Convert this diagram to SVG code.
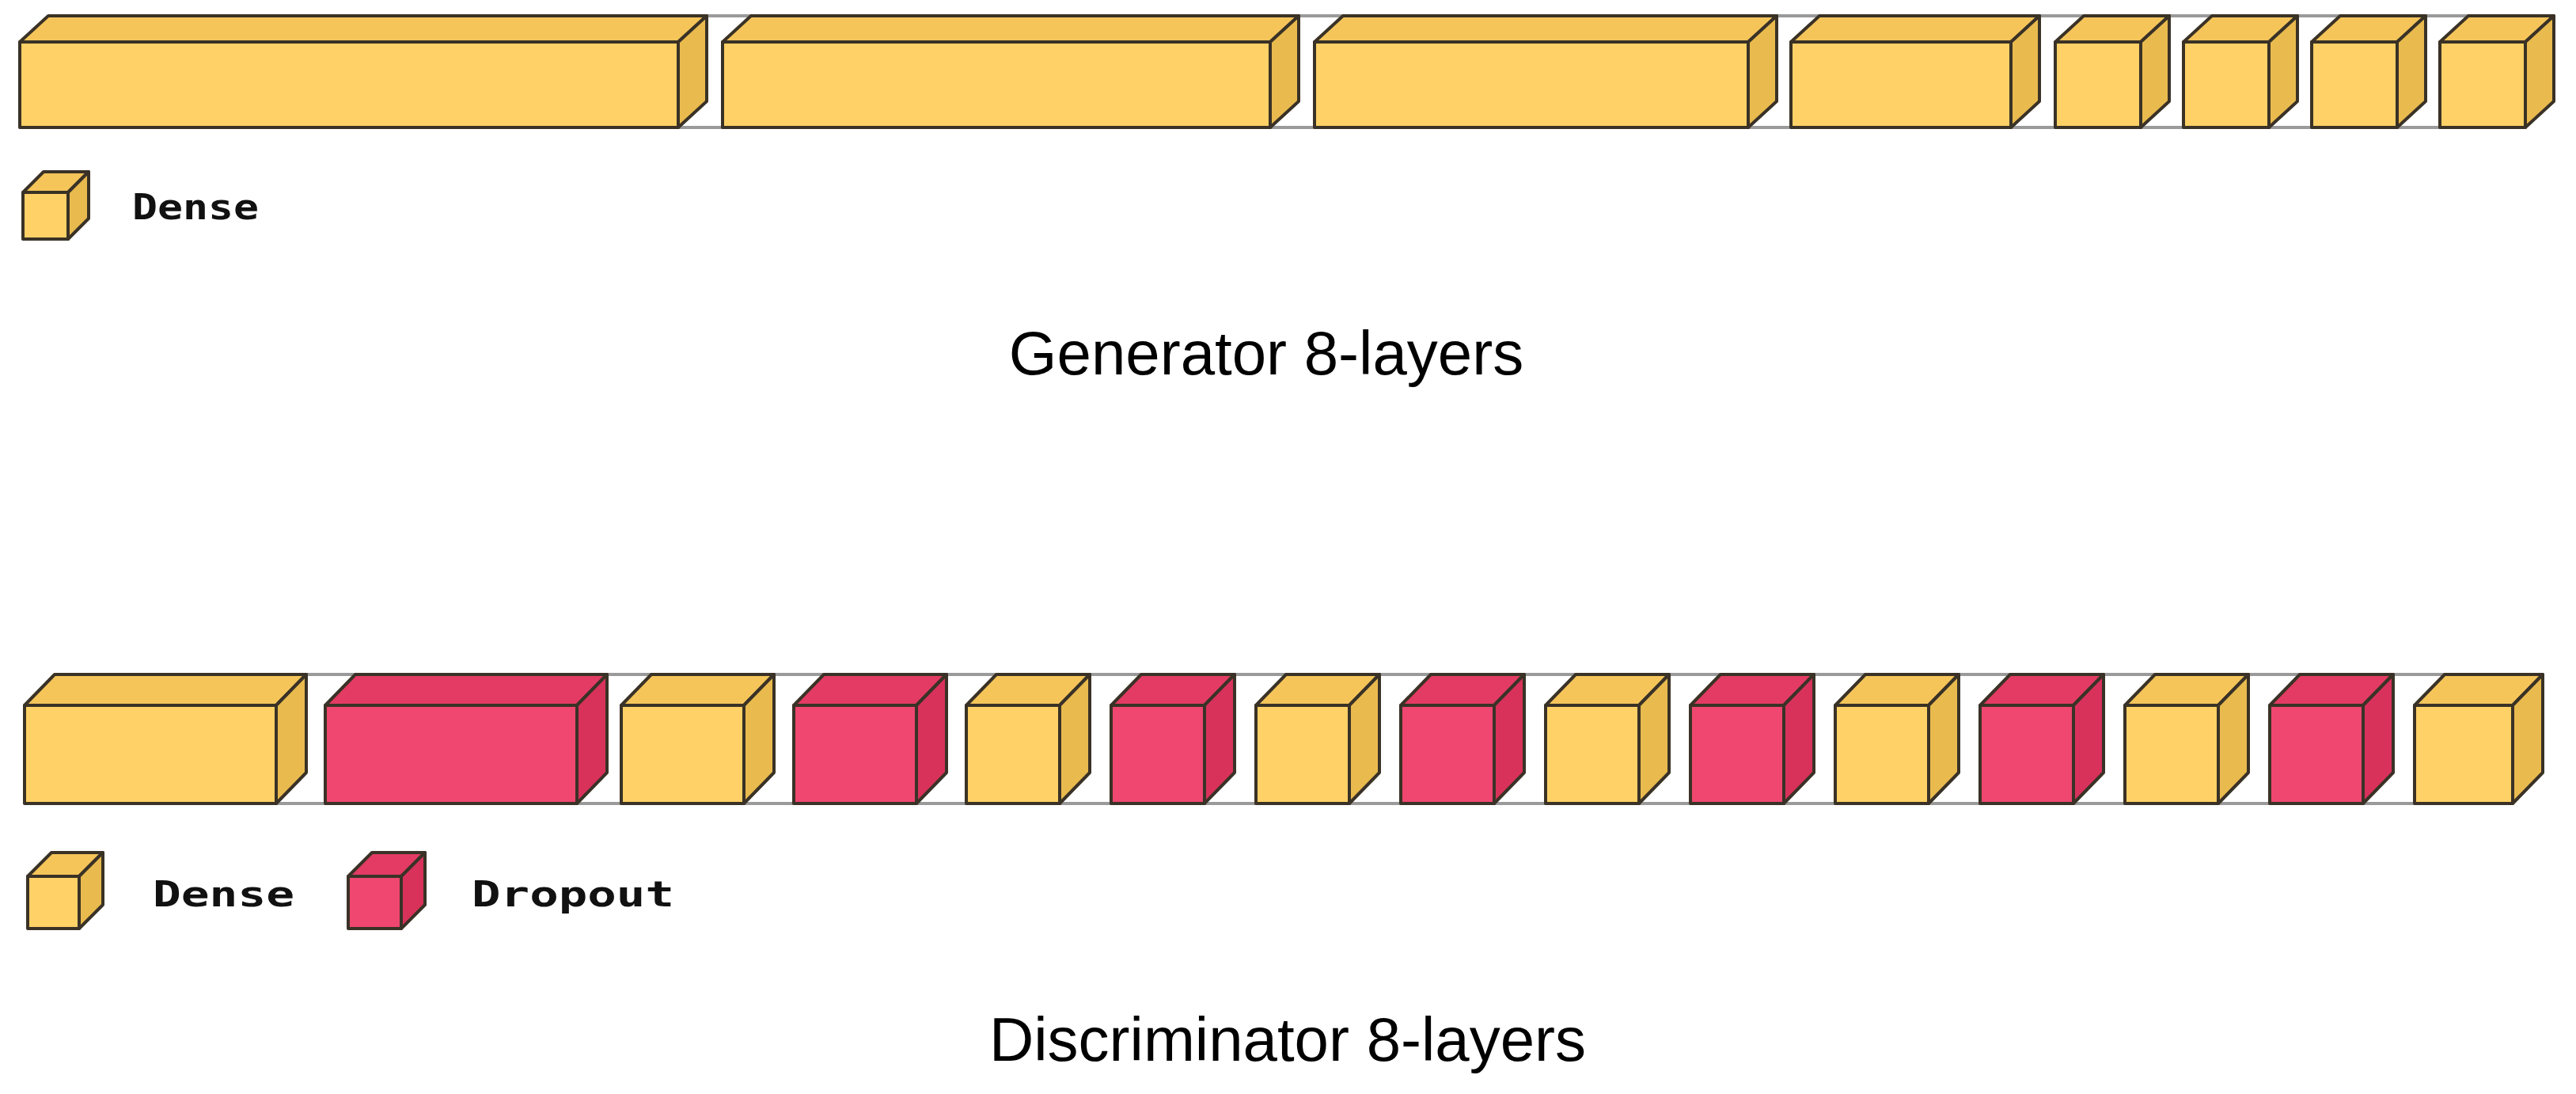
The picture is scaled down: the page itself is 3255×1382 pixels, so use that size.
<svg xmlns="http://www.w3.org/2000/svg" width="3255" height="1382" viewBox="0 0 3255 1382">
<style>
.f{stroke:#3a3226;stroke-width:4;stroke-linejoin:round}
.yf{fill:#FFD166}.yt{fill:#F5C55A}.ys{fill:#E9BA4E}
.rf{fill:#EF476F}.rt{fill:#E33B63}.rs{fill:#D8325B}
.gap{fill:#fff;stroke:#9a9a9a;stroke-width:4}
.lg{font-family:"DejaVu Sans Mono",monospace;font-weight:bold;font-size:44px;fill:#111}
.tt{font-family:"Liberation Sans",Arial,sans-serif;font-size:78px;fill:#000}
</style>
<rect width="3255" height="1382" fill="#fff"/>
<g id="connectors">
<rect class="gap" x="857" y="20" width="92" height="141"/>
<rect class="gap" x="1605" y="20" width="92" height="141"/>
<rect class="gap" x="2209" y="20" width="90" height="141"/>
<rect class="gap" x="2541" y="20" width="92" height="141"/>
<rect class="gap" x="2705" y="20" width="90" height="141"/>
<rect class="gap" x="2867" y="20" width="90" height="141"/>
<rect class="gap" x="3029" y="20" width="90" height="141"/>
<rect class="gap" x="349" y="852" width="100" height="163"/>
<rect class="gap" x="729" y="852" width="94" height="163"/>
<rect class="gap" x="940" y="852" width="101" height="163"/>
<rect class="gap" x="1158" y="852" width="101" height="163"/>
<rect class="gap" x="1339" y="852" width="100" height="163"/>
<rect class="gap" x="1522" y="852" width="103" height="163"/>
<rect class="gap" x="1705" y="852" width="103" height="163"/>
<rect class="gap" x="1888" y="852" width="103" height="163"/>
<rect class="gap" x="2071" y="852" width="103" height="163"/>
<rect class="gap" x="2254" y="852" width="103" height="163"/>
<rect class="gap" x="2437" y="852" width="103" height="163"/>
<rect class="gap" x="2620" y="852" width="103" height="163"/>
<rect class="gap" x="2803" y="852" width="103" height="163"/>
<rect class="gap" x="2986" y="852" width="103" height="163"/>
</g>
<g id="generator">
<g id="g1" class="f"><rect class="yf" x="25" y="53" width="832" height="108"/><polygon class="yt" points="25,53 61,20 893,20 857,53"/><polygon class="ys" points="857,53 893,20 893,128 857,161"/></g>
<g id="g2" class="f"><rect class="yf" x="913" y="53" width="692" height="108"/><polygon class="yt" points="913,53 949,20 1641,20 1605,53"/><polygon class="ys" points="1605,53 1641,20 1641,128 1605,161"/></g>
<g id="g3" class="f"><rect class="yf" x="1661" y="53" width="548" height="108"/><polygon class="yt" points="1661,53 1697,20 2245,20 2209,53"/><polygon class="ys" points="2209,53 2245,20 2245,128 2209,161"/></g>
<g id="g4" class="f"><rect class="yf" x="2263" y="53" width="278" height="108"/><polygon class="yt" points="2263,53 2299,20 2577,20 2541,53"/><polygon class="ys" points="2541,53 2577,20 2577,128 2541,161"/></g>
<g id="g5" class="f"><rect class="yf" x="2597" y="53" width="108" height="108"/><polygon class="yt" points="2597,53 2633,20 2741,20 2705,53"/><polygon class="ys" points="2705,53 2741,20 2741,128 2705,161"/></g>
<g id="g6" class="f"><rect class="yf" x="2759" y="53" width="108" height="108"/><polygon class="yt" points="2759,53 2795,20 2903,20 2867,53"/><polygon class="ys" points="2867,53 2903,20 2903,128 2867,161"/></g>
<g id="g7" class="f"><rect class="yf" x="2921" y="53" width="108" height="108"/><polygon class="yt" points="2921,53 2957,20 3065,20 3029,53"/><polygon class="ys" points="3029,53 3065,20 3065,128 3029,161"/></g>
<g id="g8" class="f"><rect class="yf" x="3083" y="53" width="108" height="108"/><polygon class="yt" points="3083,53 3119,20 3227,20 3191,53"/><polygon class="ys" points="3191,53 3227,20 3227,128 3191,161"/></g>
</g>
<g id="gen-legend">
<g class="f"><rect class="yf" x="29" y="243" width="57" height="59"/><polygon class="yt" points="29,243 55,217 112,217 86,243"/><polygon class="ys" points="86,243 112,217 112,276 86,302"/></g>
<text class="lg" x="167" y="277" textLength="160" lengthAdjust="spacingAndGlyphs">Dense</text>
</g>
<text id="gen-title" class="tt" x="1600" y="473" text-anchor="middle">Generator 8-layers</text>
<g id="discriminator">
<g id="d1" class="f"><rect class="yf" x="31" y="891" width="318" height="124"/><polygon class="yt" points="31,891 69,852 387,852 349,891"/><polygon class="ys" points="349,891 387,852 387,976 349,1015"/></g>
<g id="d2" class="f"><rect class="rf" x="411" y="891" width="318" height="124"/><polygon class="rt" points="411,891 449,852 767,852 729,891"/><polygon class="rs" points="729,891 767,852 767,976 729,1015"/></g>
<g id="d3" class="f"><rect class="yf" x="785" y="891" width="155" height="124"/><polygon class="yt" points="785,891 823,852 978,852 940,891"/><polygon class="ys" points="940,891 978,852 978,976 940,1015"/></g>
<g id="d4" class="f"><rect class="rf" x="1003" y="891" width="155" height="124"/><polygon class="rt" points="1003,891 1041,852 1196,852 1158,891"/><polygon class="rs" points="1158,891 1196,852 1196,976 1158,1015"/></g>
<g id="d5" class="f"><rect class="yf" x="1221" y="891" width="118" height="124"/><polygon class="yt" points="1221,891 1259,852 1377,852 1339,891"/><polygon class="ys" points="1339,891 1377,852 1377,976 1339,1015"/></g>
<g id="d6" class="f"><rect class="rf" x="1404" y="891" width="118" height="124"/><polygon class="rt" points="1404,891 1442,852 1560,852 1522,891"/><polygon class="rs" points="1522,891 1560,852 1560,976 1522,1015"/></g>
<g id="d7" class="f"><rect class="yf" x="1587" y="891" width="118" height="124"/><polygon class="yt" points="1587,891 1625,852 1743,852 1705,891"/><polygon class="ys" points="1705,891 1743,852 1743,976 1705,1015"/></g>
<g id="d8" class="f"><rect class="rf" x="1770" y="891" width="118" height="124"/><polygon class="rt" points="1770,891 1808,852 1926,852 1888,891"/><polygon class="rs" points="1888,891 1926,852 1926,976 1888,1015"/></g>
<g id="d9" class="f"><rect class="yf" x="1953" y="891" width="118" height="124"/><polygon class="yt" points="1953,891 1991,852 2109,852 2071,891"/><polygon class="ys" points="2071,891 2109,852 2109,976 2071,1015"/></g>
<g id="d10" class="f"><rect class="rf" x="2136" y="891" width="118" height="124"/><polygon class="rt" points="2136,891 2174,852 2292,852 2254,891"/><polygon class="rs" points="2254,891 2292,852 2292,976 2254,1015"/></g>
<g id="d11" class="f"><rect class="yf" x="2319" y="891" width="118" height="124"/><polygon class="yt" points="2319,891 2357,852 2475,852 2437,891"/><polygon class="ys" points="2437,891 2475,852 2475,976 2437,1015"/></g>
<g id="d12" class="f"><rect class="rf" x="2502" y="891" width="118" height="124"/><polygon class="rt" points="2502,891 2540,852 2658,852 2620,891"/><polygon class="rs" points="2620,891 2658,852 2658,976 2620,1015"/></g>
<g id="d13" class="f"><rect class="yf" x="2685" y="891" width="118" height="124"/><polygon class="yt" points="2685,891 2723,852 2841,852 2803,891"/><polygon class="ys" points="2803,891 2841,852 2841,976 2803,1015"/></g>
<g id="d14" class="f"><rect class="rf" x="2868" y="891" width="118" height="124"/><polygon class="rt" points="2868,891 2906,852 3024,852 2986,891"/><polygon class="rs" points="2986,891 3024,852 3024,976 2986,1015"/></g>
<g id="d15" class="f"><rect class="yf" x="3051" y="891" width="124" height="124"/><polygon class="yt" points="3051,891 3089,852 3213,852 3175,891"/><polygon class="ys" points="3175,891 3213,852 3213,976 3175,1015"/></g>
</g>
<g id="disc-legend">
<g class="f"><rect class="yf" x="35" y="1107" width="65" height="66"/><polygon class="yt" points="35,1107 65,1077 130,1077 100,1107"/><polygon class="ys" points="100,1107 130,1077 130,1143 100,1173"/></g>
<text class="lg" x="193" y="1145" textLength="179" lengthAdjust="spacingAndGlyphs">Dense</text>
<g class="f"><rect class="rf" x="440" y="1107" width="67" height="66"/><polygon class="rt" points="440,1107 470,1077 537,1077 507,1107"/><polygon class="rs" points="507,1107 537,1077 537,1143 507,1173"/></g>
<text class="lg" x="596" y="1145" textLength="256" lengthAdjust="spacingAndGlyphs">Dropout</text>
</g>
<text id="disc-title" class="tt" x="1627" y="1340" text-anchor="middle">Discriminator 8-layers</text>
</svg>
